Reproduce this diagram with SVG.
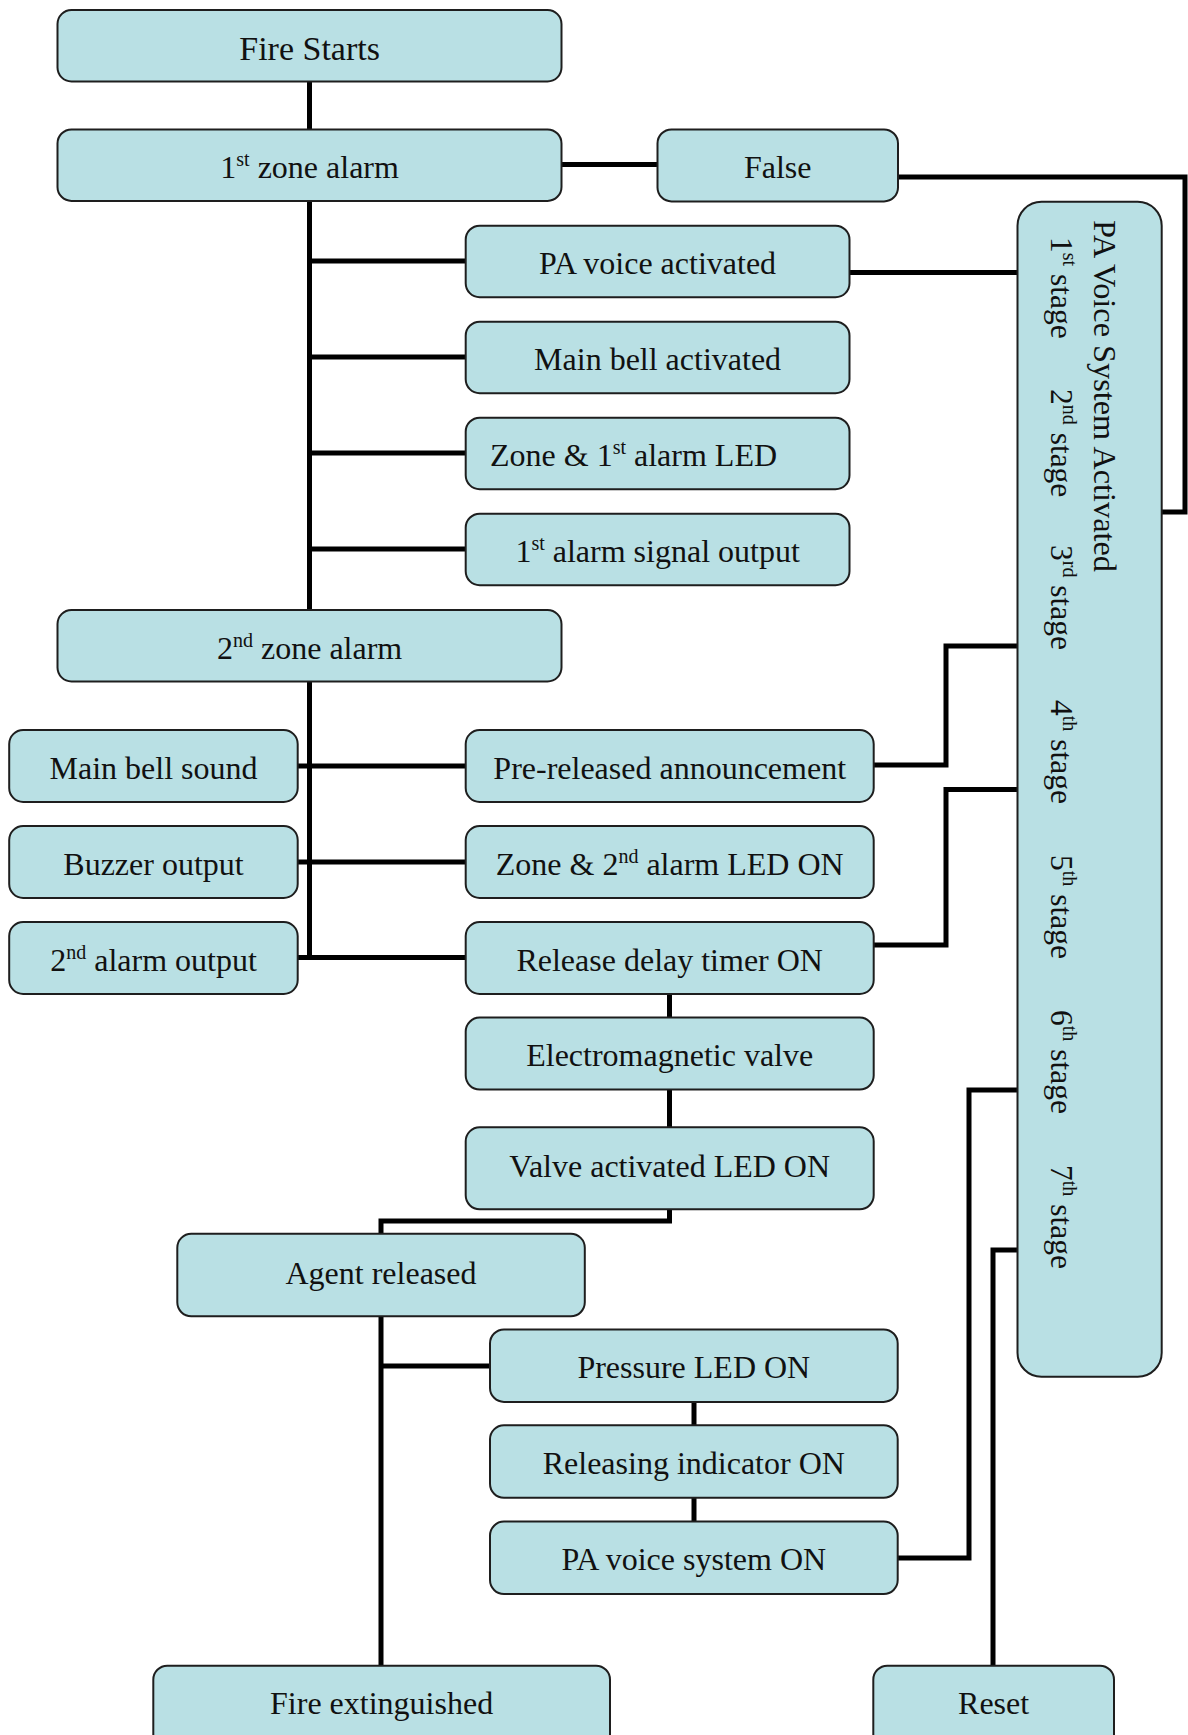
<svg xmlns="http://www.w3.org/2000/svg" width="1188" height="1735" viewBox="0 0 1188 1735">
<style>
.box{fill:#b9e0e4;stroke:#1e1e1e;stroke-width:2}
.t{font-family:"Liberation Serif","Times New Roman",serif;font-size:32px;fill:#111;text-anchor:middle}
.big{font-size:34px}
.v{font-family:"Liberation Serif","Times New Roman",serif;font-size:31.5px;fill:#111}
.vt{font-size:32.3px}
.sup{font-size:20px}
.c{fill:none;stroke:#000;stroke-width:5}
</style>
<rect width="1188" height="1735" fill="#fff"/>
<g id="connectors">
<path class="c" d="M309.5 81V130"/>
<path class="c" d="M561 164.5H657.5"/>
<path class="c" d="M898 177H1185V512H1161.5"/>
<path class="c" d="M309.5 200V610"/>
<path class="c" d="M309.5 261H466M309.5 357H466M309.5 453H466M309.5 549H466"/>
<path class="c" d="M849.5 272.5H1017.5"/>
<path class="c" d="M309.5 681V960"/>
<path class="c" d="M297.7 766H465.7M297.7 862H465.7M297.7 957.5H465.7"/>
<path class="c" d="M873.8 765H946V646H1017.5"/>
<path class="c" d="M873.8 945H946V789.5H1017.5"/>
<path class="c" d="M669.5 993V1018M669.5 1089.6V1127.3"/>
<path class="c" d="M669.5 1209V1221H381V1234"/>
<path class="c" d="M381 1316V1666"/>
<path class="c" d="M381 1366H490"/>
<path class="c" d="M694 1402V1425.3M694 1497.8V1521.6"/>
<path class="c" d="M897.7 1558H969V1090H1017.5"/>
<path class="c" d="M993 1666V1250H1017.5"/>
</g>
<g id="fire-starts"><rect class="box" x="57.5" y="10" width="504" height="71.5" rx="14"/><text class="t big" x="309.6" y="60">Fire Starts</text></g>
<g id="zone1"><rect class="box" x="57.5" y="129.4" width="504" height="71.5" rx="14"/><text class="t" x="309.6" y="178">1<tspan class="sup" dy="-12">st</tspan><tspan dy="12"> zone alarm</tspan></text></g>
<g id="false"><rect class="box" x="657.5" y="129.4" width="240.5" height="72" rx="14"/><text class="t" x="777.7" y="178">False</text></g>
<g id="pa-voice-activated"><rect class="box" x="465.7" y="225.7" width="383.8" height="71.5" rx="14"/><text class="t" x="657.6" y="274">PA voice activated</text></g>
<g id="main-bell-activated"><rect class="box" x="465.7" y="321.7" width="383.8" height="71.5" rx="14"/><text class="t" x="657.6" y="370">Main bell activated</text></g>
<g id="zone-1st-led"><rect class="box" x="465.7" y="417.7" width="383.8" height="71.5" rx="14"/><text class="t" x="490" y="466" style="text-anchor:start">Zone &amp; 1<tspan class="sup" dy="-12">st</tspan><tspan dy="12"> alarm LED</tspan></text></g>
<g id="alarm1-signal"><rect class="box" x="465.7" y="513.7" width="383.8" height="71.5" rx="14"/><text class="t" x="657.6" y="562">1<tspan class="sup" dy="-12">st</tspan><tspan dy="12"> alarm signal output</tspan></text></g>
<g id="zone2"><rect class="box" x="57.5" y="610" width="504" height="71.5" rx="14"/><text class="t" x="309.6" y="658.5">2<tspan class="sup" dy="-12">nd</tspan><tspan dy="12"> zone alarm</tspan></text></g>
<g id="main-bell-sound"><rect class="box" x="9.2" y="730" width="288.5" height="72" rx="14"/><text class="t" x="153.5" y="778.5">Main bell sound</text></g>
<g id="buzzer"><rect class="box" x="9.2" y="826" width="288.5" height="72" rx="14"/><text class="t" x="153.5" y="874.5">Buzzer output</text></g>
<g id="alarm2-output"><rect class="box" x="9.2" y="922" width="288.5" height="72" rx="14"/><text class="t" x="153.5" y="970.5">2<tspan class="sup" dy="-12">nd</tspan><tspan dy="12"> alarm output</tspan></text></g>
<g id="pre-released"><rect class="box" x="465.7" y="730" width="408" height="72" rx="14"/><text class="t" x="669.7" y="778.5">Pre-released announcement</text></g>
<g id="zone-2nd-led"><rect class="box" x="465.7" y="826" width="408" height="72" rx="14"/><text class="t" x="669.7" y="874.5">Zone &amp; 2<tspan class="sup" dy="-12">nd</tspan><tspan dy="12"> alarm LED ON</tspan></text></g>
<g id="release-delay"><rect class="box" x="465.7" y="922" width="408" height="72" rx="14"/><text class="t" x="669.7" y="970.5">Release delay timer ON</text></g>
<g id="electromagnetic"><rect class="box" x="465.7" y="1017.6" width="408" height="72" rx="14"/><text class="t" x="669.7" y="1066">Electromagnetic valve</text></g>
<g id="valve-led"><rect class="box" x="465.7" y="1127.3" width="408" height="82" rx="14"/><text class="t" x="669.7" y="1177">Valve activated LED ON</text></g>
<g id="agent-released"><rect class="box" x="177.3" y="1233.8" width="407.5" height="82.5" rx="14"/><text class="t" x="381" y="1284">Agent released</text></g>
<g id="pressure-led"><rect class="box" x="490" y="1329.4" width="407.7" height="72.5" rx="14"/><text class="t" x="693.8" y="1378">Pressure LED ON</text></g>
<g id="releasing-indicator"><rect class="box" x="490" y="1425.3" width="407.7" height="72.5" rx="14"/><text class="t" x="693.8" y="1474">Releasing indicator ON</text></g>
<g id="pa-system-on"><rect class="box" x="490" y="1521.6" width="407.7" height="72.5" rx="14"/><text class="t" x="693.8" y="1570">PA voice system ON</text></g>
<g id="fire-extinguished"><rect class="box" x="153.3" y="1665.7" width="456.7" height="95" rx="14"/><text class="t" x="381.6" y="1714">Fire extinguished</text></g>
<g id="reset"><rect class="box" x="873.3" y="1665.7" width="240.7" height="95" rx="14"/><text class="t" x="993.6" y="1714">Reset</text></g>
<g id="pa-voice-system-activated">
<rect class="box" x="1017.5" y="201.8" width="144.2" height="1175" rx="24"/>
<text class="v vt" transform="translate(1094,220) rotate(90)">PA Voice System Activated</text>
<text class="v" transform="translate(1051,237) rotate(90)">1<tspan class="sup" dy="-12">st</tspan><tspan dy="12"> stage</tspan></text>
<text class="v" transform="translate(1051,389) rotate(90)">2<tspan class="sup" dy="-12">nd</tspan><tspan dy="12"> stage</tspan></text>
<text class="v" transform="translate(1051,545) rotate(90)">3<tspan class="sup" dy="-12">rd</tspan><tspan dy="12"> stage</tspan></text>
<text class="v" transform="translate(1051,700) rotate(90)">4<tspan class="sup" dy="-12">th</tspan><tspan dy="12"> stage</tspan></text>
<text class="v" transform="translate(1051,855) rotate(90)">5<tspan class="sup" dy="-12">th</tspan><tspan dy="12"> stage</tspan></text>
<text class="v" transform="translate(1051,1010) rotate(90)">6<tspan class="sup" dy="-12">th</tspan><tspan dy="12"> stage</tspan></text>
<text class="v" transform="translate(1051,1165) rotate(90)">7<tspan class="sup" dy="-12">th</tspan><tspan dy="12"> stage</tspan></text>
</g>
</svg>
